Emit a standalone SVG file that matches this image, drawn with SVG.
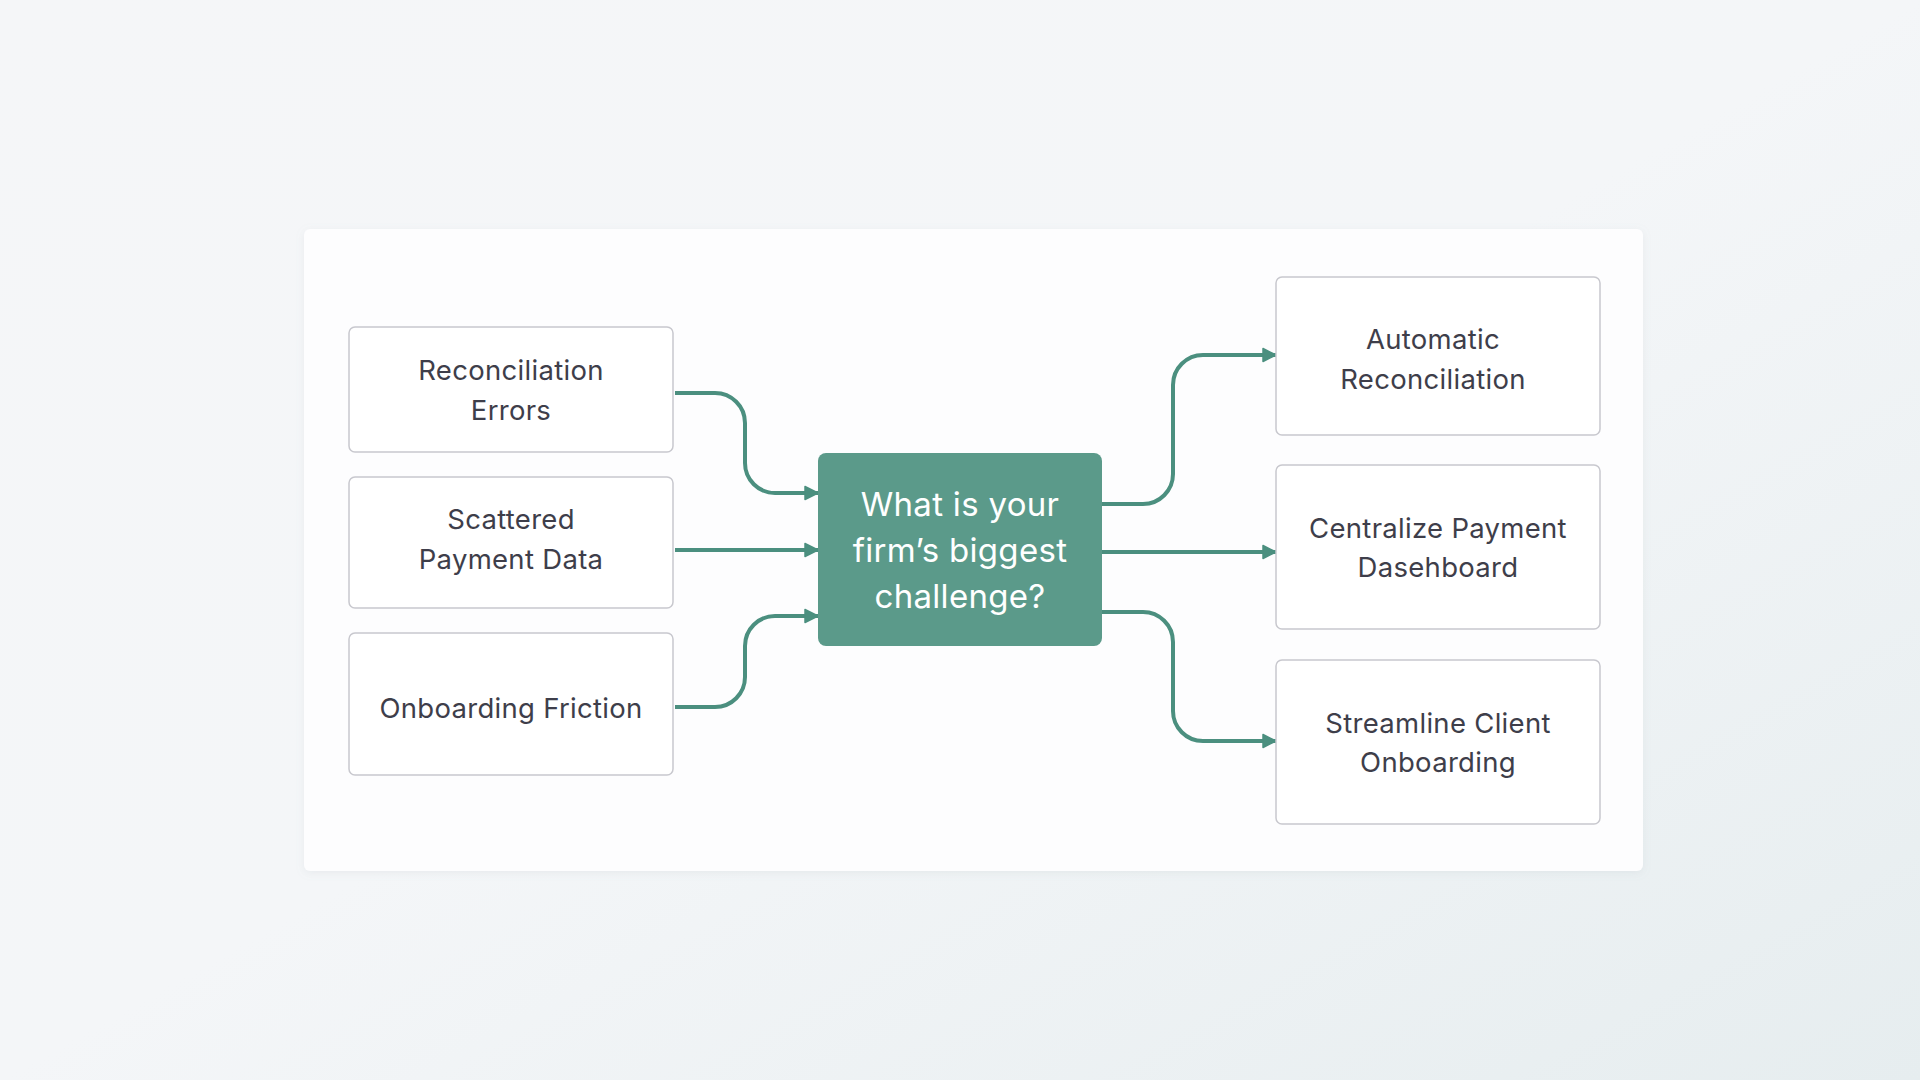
<svg xmlns="http://www.w3.org/2000/svg" width="1920" height="1080" viewBox="0 0 1920 1080">
  <defs>
    <linearGradient id="bg" x1="0" y1="0" x2="1" y2="1">
      <stop offset="0" stop-color="#f5f6f8"/>
      <stop offset="0.5" stop-color="#f4f6f8"/>
      <stop offset="1" stop-color="#e6edef"/>
    </linearGradient>
    <filter id="shadow" x="-5%" y="-5%" width="110%" height="110%">
      <feDropShadow dx="0" dy="2" stdDeviation="4" flood-color="#8a98a0" flood-opacity="0.12"/>
    </filter>
    <marker id="arrow" viewBox="0 0 16 16" refX="15" refY="8" markerWidth="16" markerHeight="16" markerUnits="userSpaceOnUse" orient="auto">
      <path d="M2,1.5 L15,8 L2,14.5 Z" fill="#4b8f7f" stroke="#4b8f7f" stroke-width="1.5" stroke-linejoin="round"/>
    </marker>
    <style>
      .box { fill: #ffffff; stroke: #c8c8ce; stroke-width: 1.5; }
      .lbl { font-family: Inter, "Liberation Sans", sans-serif; font-size: 27.5px; fill: #3e3e4a; text-anchor: middle; letter-spacing: 0.3px; }
      .ctr { font-family: Inter, "Liberation Sans", sans-serif; font-size: 33px; fill: #ffffff; text-anchor: middle; letter-spacing: 0.3px; }
      .conn { fill: none; stroke: #4b8f7f; stroke-width: 4; marker-end: url(#arrow); }
    </style>
  </defs>

  <rect x="0" y="0" width="1920" height="1080" fill="url(#bg)"/>
  <rect x="304" y="229" width="1339" height="642" rx="6" fill="#fdfdfe" filter="url(#shadow)"/>

  <g id="connectors">
    <path class="conn" d="M675,393 H715 A30,30 0 0 1 745,423 V463 A30,30 0 0 0 775,493 H818"/>
    <path class="conn" d="M675,550 H818"/>
    <path class="conn" d="M675,707 H715 A30,30 0 0 0 745,677 V646 A30,30 0 0 1 775,616 H818"/>
    <path class="conn" d="M1102,504 H1143 A30,30 0 0 0 1173,474 V385 A30,30 0 0 1 1203,355 H1276"/>
    <path class="conn" d="M1102,552 H1276"/>
    <path class="conn" d="M1102,612 H1143 A30,30 0 0 1 1173,642 V711 A30,30 0 0 0 1203,741 H1276"/>
  </g>

  <g id="node-reconciliation-errors">
    <rect class="box" x="349" y="327" width="324" height="125" rx="6"/>
    <text class="lbl" x="511" y="380">Reconciliation</text>
    <text class="lbl" x="511" y="420">Errors</text>
  </g>
  <g id="node-scattered-payment-data">
    <rect class="box" x="349" y="477" width="324" height="131" rx="6"/>
    <text class="lbl" x="511" y="529">Scattered</text>
    <text class="lbl" x="511" y="569">Payment Data</text>
  </g>
  <g id="node-onboarding-friction">
    <rect class="box" x="349" y="633" width="324" height="142" rx="6"/>
    <text class="lbl" x="511" y="718">Onboarding Friction</text>
  </g>

  <g id="node-center">
    <rect x="818" y="453" width="284" height="193" rx="8" fill="#5b9a8a"/>
    <text class="ctr" x="960" y="516">What is your</text>
    <text class="ctr" x="960" y="562">firm’s biggest</text>
    <text class="ctr" x="960" y="608">challenge?</text>
  </g>

  <g id="node-automatic-reconciliation">
    <rect class="box" x="1276" y="277" width="324" height="158" rx="6"/>
    <text class="lbl" x="1433" y="349">Automatic</text>
    <text class="lbl" x="1433" y="389">Reconciliation</text>
  </g>
  <g id="node-centralize-payment-dashboard">
    <rect class="box" x="1276" y="465" width="324" height="164" rx="6"/>
    <text class="lbl" x="1438" y="538">Centralize Payment</text>
    <text class="lbl" x="1438" y="577">Dasehboard</text>
  </g>
  <g id="node-streamline-client-onboarding">
    <rect class="box" x="1276" y="660" width="324" height="164" rx="6"/>
    <text class="lbl" x="1438" y="733">Streamline Client</text>
    <text class="lbl" x="1438" y="772">Onboarding</text>
  </g>
</svg>
